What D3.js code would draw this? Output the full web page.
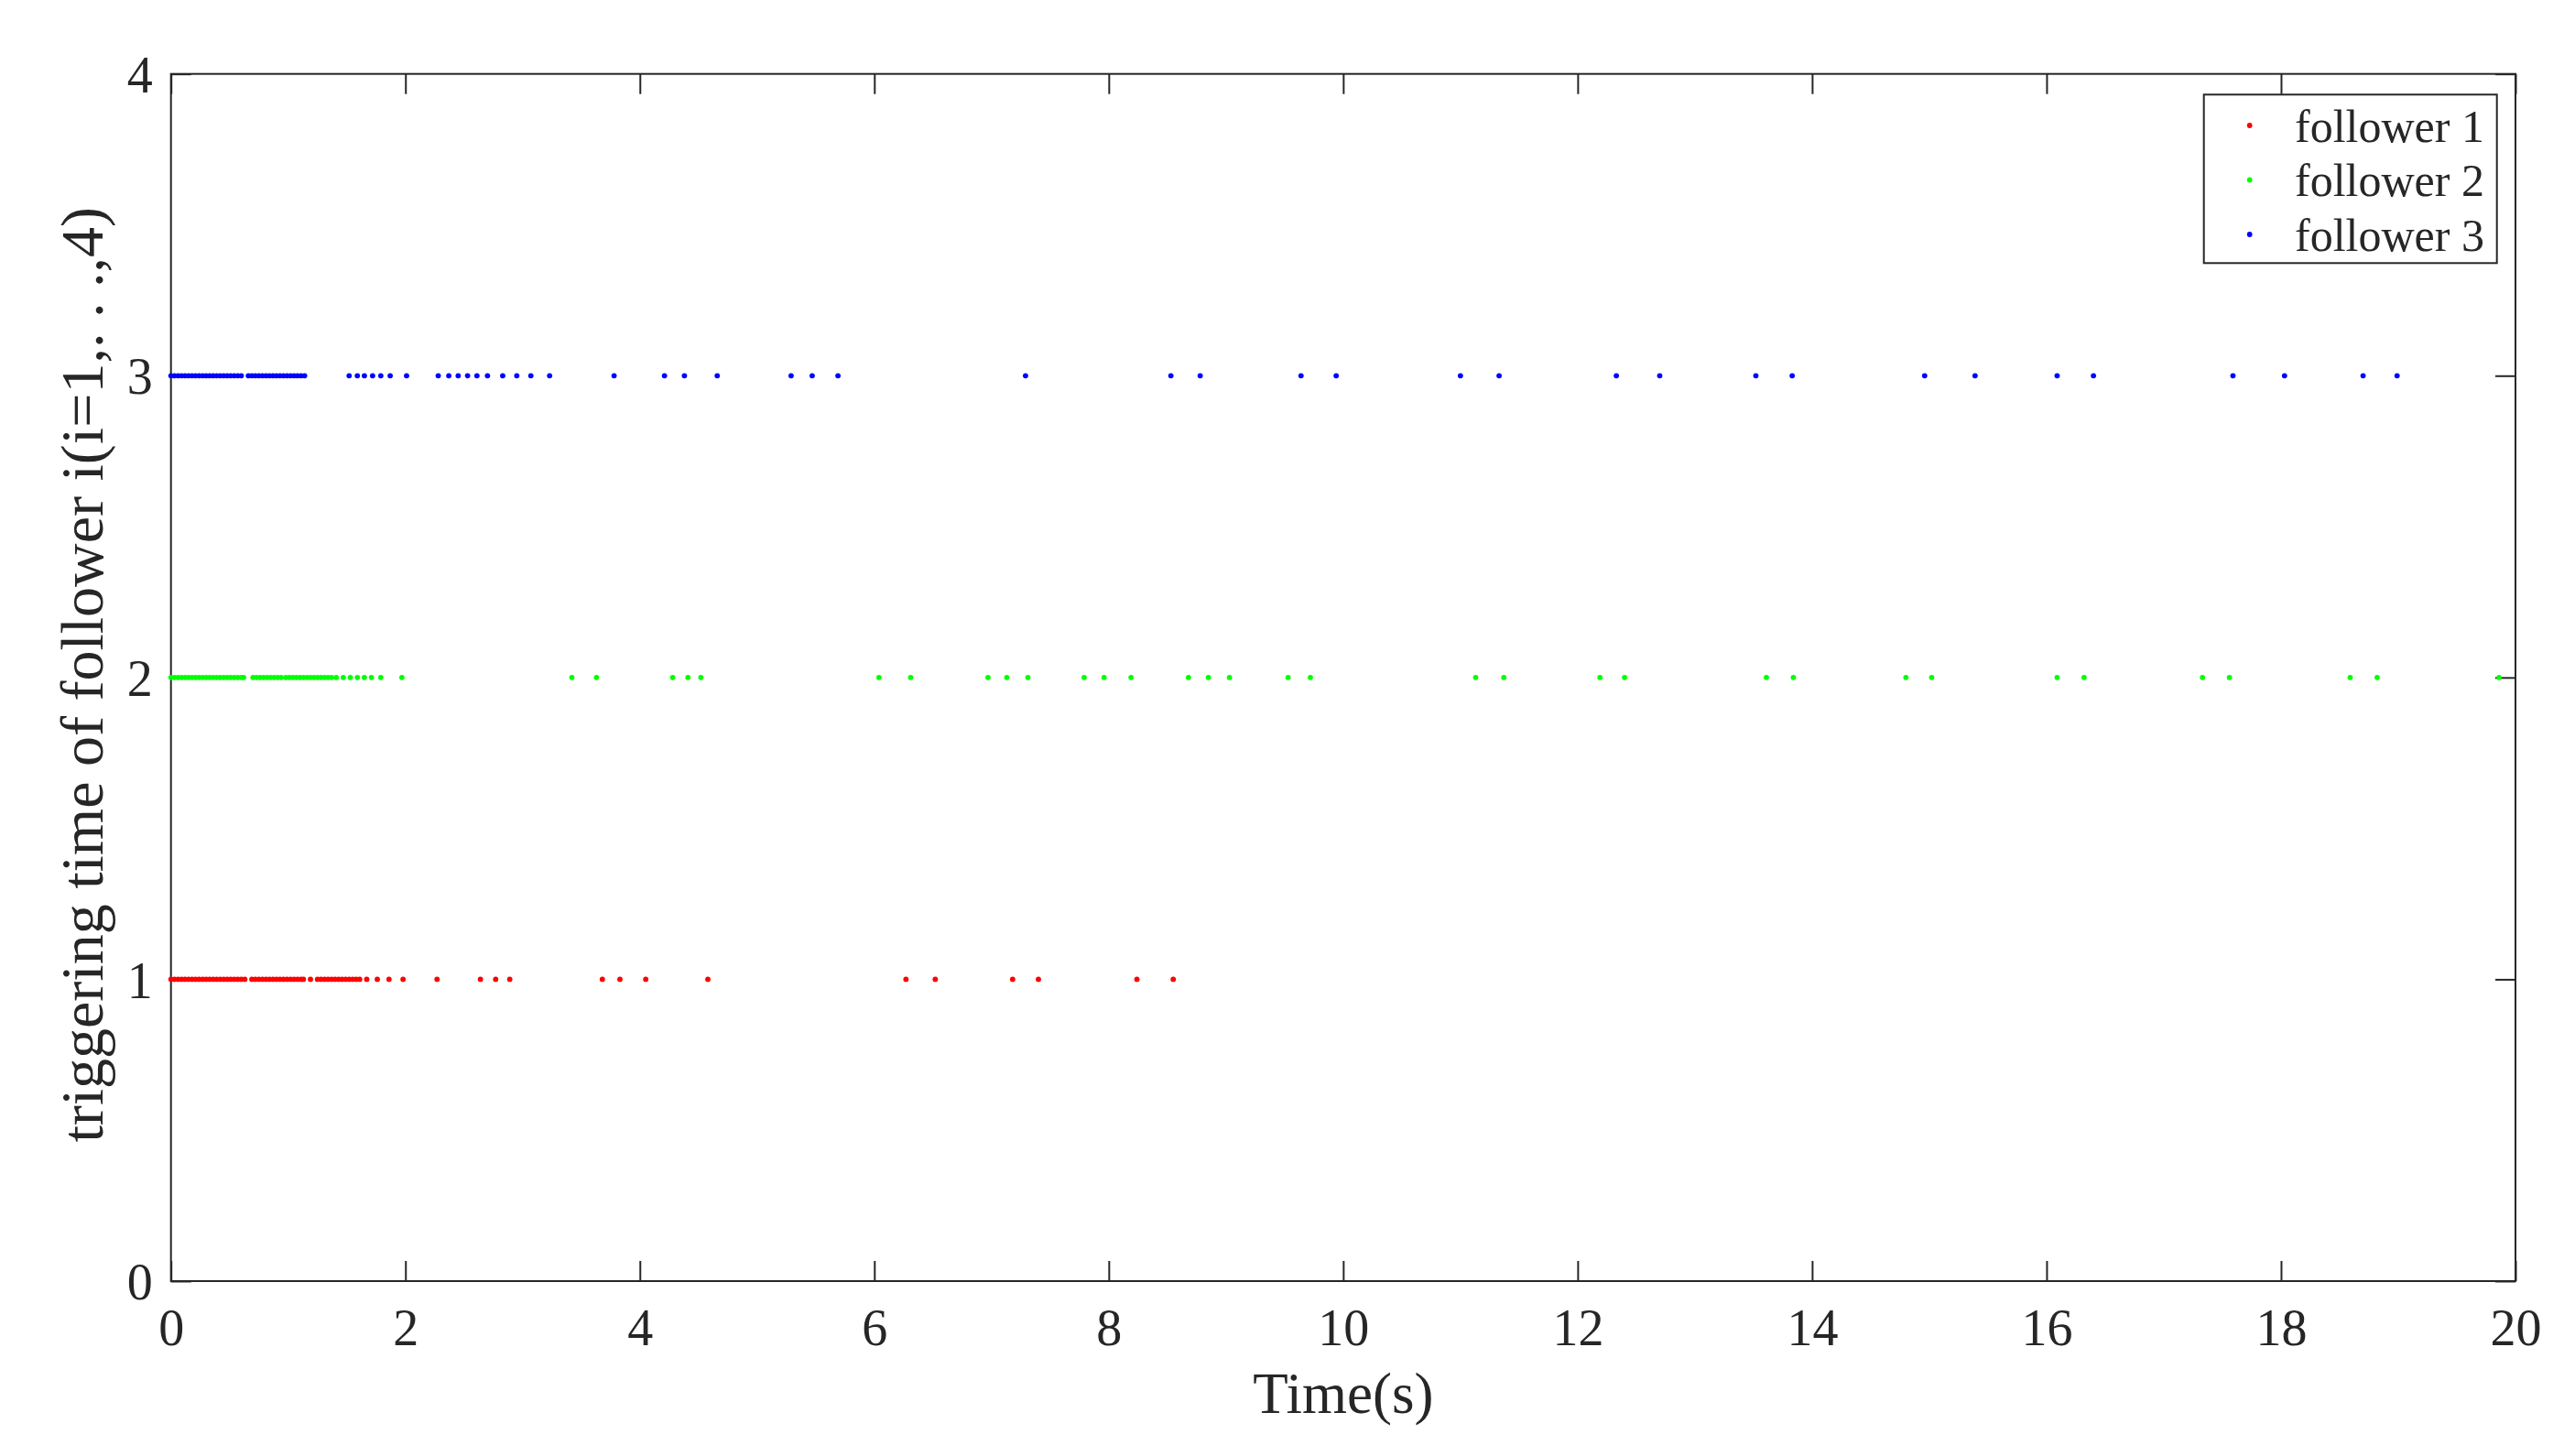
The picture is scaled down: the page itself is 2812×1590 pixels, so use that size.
<!DOCTYPE html>
<html>
<head>
<meta charset="utf-8">
<script src="https://cdn.jsdelivr.net/npm/d3@7"></script>
<style>
  html, body { margin: 0; padding: 0; background: #fff; }
  svg { display: block; }
  text { font-family: "Liberation Serif", "Times New Roman", serif; fill: #262626; }
</style>
</head>
<body>
<script>
// ---- data (trigger instants in seconds) ----
const follower1 = [
  0.00,0.03,0.06,0.09,0.12,0.15,0.18,0.21,0.24,0.27,0.30,0.33,0.36,0.39,0.42,0.45,0.48,0.51,0.54,0.57,0.60,0.63,
  0.69,0.72,0.75,0.78,0.81,0.84,0.87,0.90,0.93,0.96,0.99,1.02,1.05,1.08,1.11,1.13,
  1.19,
  1.25,1.28,1.31,1.34,1.37,1.40,1.43,1.46,1.49,1.52,1.55,1.58,1.61,
  1.67,1.76,1.86,1.98,2.27,2.64,2.77,2.89,3.68,3.83,4.05,4.58,6.27,6.52,7.18,7.40,8.24,8.55
];
const follower2 = [
  0.00,0.03,0.06,0.09,0.12,0.15,0.18,0.21,0.24,0.27,0.30,0.33,0.36,0.39,0.42,0.45,0.48,0.51,0.54,0.57,0.60,0.62,
  0.70,0.73,0.76,0.79,0.82,0.85,0.88,0.91,0.94,
  0.98,1.01,1.04,1.07,1.10,1.13,1.16,1.19,1.22,1.25,1.28,1.31,1.34,1.37,
  1.41,1.47,1.53,1.59,1.65,1.71,1.79,1.97,3.42,3.63,4.28,4.41,4.52,6.04,6.31,6.97,7.13,7.31,
  7.79,7.96,8.19,8.68,8.85,9.03,9.53,9.72,11.13,11.37,12.19,12.40,13.61,13.84,14.80,15.02,
  16.09,16.32,17.33,17.56,18.59,18.82,19.86
];
const follower3 = [
  0.00,0.03,0.06,0.09,0.12,0.15,0.18,0.21,0.24,0.27,0.30,0.33,0.36,0.39,0.42,0.45,0.48,0.51,0.54,0.57,0.60,
  0.66,0.69,0.72,0.75,0.78,0.81,0.84,0.87,0.90,0.93,0.96,0.99,1.02,1.05,1.08,1.11,1.14,
  1.52,1.59,1.65,1.72,1.79,1.87,2.01,2.28,2.37,2.45,2.53,2.61,2.70,2.83,2.95,3.07,3.23,3.78,
  4.21,4.38,4.66,5.29,5.47,5.69,7.29,8.53,8.78,9.64,9.94,11.00,11.33,12.33,12.70,13.52,13.83,
  14.96,15.39,16.09,16.40,17.59,18.03,18.70,18.99
];
const seriesNames = ["follower 1", "follower 2", "follower 3"];
const seriesLevels = [1, 2, 3];
const seriesColors = ["#ff0000", "#00ff00", "#0000ff"];
const xTicks = [0,2,4,6,8,10,12,14,16,18,20];
const yTicks = [0,1,2,3,4];
const xLabel = "Time(s)";
const yLabel = "triggering time of follower i(i=1,. . .,4)";

// ---- layout ----
const W = 2812, H = 1590;
const L = 186.7, R = 2747, T = 80.7, B = 1399;
const tickLen = 22;

const svg = d3.select("body").append("svg").attr("width", W).attr("height", H);

const x = d3.scaleLinear().domain([0, 20]).range([L, R]);
const y = d3.scaleLinear().domain([0, 4]).range([B, T]);

const axisColor = "#262626";

const gx = svg.append("g").attr("transform", `translate(0,${B})`)
  .call(d3.axisBottom(x).tickValues(xTicks).tickSizeInner(-tickLen).tickSizeOuter(0).tickFormat(d3.format("d")));
const gxt = svg.append("g").attr("transform", `translate(0,${T})`)
  .call(d3.axisTop(x).tickValues(xTicks).tickSizeInner(-tickLen).tickSizeOuter(0).tickFormat(""));
const gy = svg.append("g").attr("transform", `translate(${L},0)`)
  .call(d3.axisLeft(y).tickValues(yTicks).tickSizeInner(-tickLen).tickSizeOuter(0).tickFormat(d3.format("d")));
const gyr = svg.append("g").attr("transform", `translate(${R},0)`)
  .call(d3.axisRight(y).tickValues(yTicks).tickSizeInner(-tickLen).tickSizeOuter(0).tickFormat(""));

[gx, gxt, gy, gyr].forEach(g => {
  g.select(".domain").remove();
  g.selectAll(".tick line").attr("stroke", axisColor).attr("stroke-width", 2);
  g.selectAll(".tick text").style("font-family", '"Liberation Serif", serif').style("font-size", "56px").attr("fill", axisColor);
});
gx.selectAll(".tick text").attr("y", 50).attr("dy", "0.35em").attr("text-anchor", "middle");
gy.selectAll(".tick text").attr("x", -20).attr("dy", "0.35em").attr("text-anchor", "end");

// box
svg.append("rect").attr("x", L).attr("y", T).attr("width", R - L).attr("height", B - T)
  .attr("fill", "none").attr("stroke", axisColor).attr("stroke-width", 2);

// dots
const allSeries = [follower1, follower2, follower3];
allSeries.forEach((arr, i) => {
  svg.append("g").selectAll("circle").data(arr).join("circle")
    .attr("cx", d => x(d))
    .attr("cy", y(seriesLevels[i]))
    .attr("r", 2.9)
    .attr("fill", seriesColors[i]);
});

// axis labels
svg.append("text").attr("x", (L + R) / 2).attr("y", 1543).attr("text-anchor", "middle")
  .style("font-size", "63px").text(xLabel);
svg.append("text").attr("transform", `translate(112,${(T + B) / 2 - 3}) rotate(-90)`).attr("text-anchor", "middle")
  .style("font-size", "66px").text(yLabel);

// legend
const lg = svg.append("g");
const lx = 2406.7, ly = 103.3, lw = 320, lh = 184;
lg.append("rect").attr("x", lx).attr("y", ly).attr("width", lw).attr("height", lh)
  .attr("fill", "#fff").attr("stroke", axisColor).attr("stroke-width", 2);
seriesNames.forEach((name, i) => {
  const cy = 137 + i * 59.5;
  lg.append("circle").attr("cx", 2456.7).attr("cy", cy).attr("r", 2.9).attr("fill", seriesColors[i]);
  lg.append("text").attr("x", 2506).attr("y", cy).attr("dy", "0.35em").style("font-size", "50px").attr("fill", "#000").text(name);
});
</script>
</body>
</html>
